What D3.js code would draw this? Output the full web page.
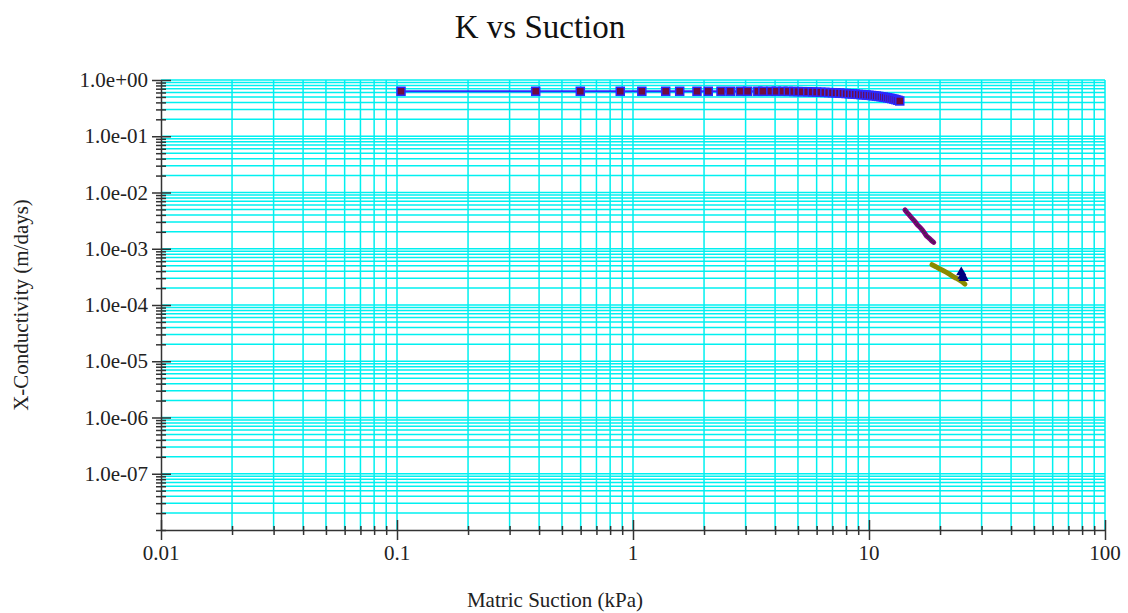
<!DOCTYPE html>
<html>
<head>
<meta charset="utf-8">
<script src="https://cdn.jsdelivr.net/npm/d3@7"></script>
<style>
  body { margin: 0; background: #fff; }
</style>
</head>
<body>
<script>
const width = 1128;
const height = 613;
const plot_left = 161, plot_right = 1105, plot_top = 80, plot_bottom = 530;
const serif = "'Times New Roman', 'Liberation Serif', 'DejaVu Serif', Times, serif";

// series 1 : main curve (blue line, square markers)
const s1_suction = [0.104,0.387,0.598,0.883,1.09,1.376,1.577,1.867,2.084,2.36,2.585,2.85,3.06,3.38,3.55,3.84,4.05,4.32,
  4.55,4.8,5.0,5.22,5.5,5.75,6.0,6.25,6.5,6.75,7.0,7.25,7.5,7.75,8.0,8.25,8.5,8.75,9.0,9.25,9.5,9.75,10.0,
  10.25,10.5,10.75,11.0,11.25,11.5,11.75,12.0,12.25,12.5,12.75,13.0,13.25,13.5];
const s1_k = [0.63,0.63,0.63,0.63,0.63,0.63,0.63,0.63,0.63,0.63,0.63,0.63,0.63,0.63,0.63,0.63,0.63,0.63,
  0.628,0.625,0.622,0.62,0.617,0.613,0.61,0.606,0.602,0.598,0.594,0.59,0.585,0.58,0.575,0.57,0.565,0.56,0.555,0.55,0.545,0.54,0.535,
  0.53,0.524,0.518,0.511,0.504,0.497,0.49,0.482,0.474,0.466,0.457,0.447,0.436,0.424];

// series 2 : purple
const s2_suction = [14.2,14.5,14.8,15.1,15.4,15.7,16.0,16.3,16.6,16.9,17.2,17.5,17.8,18.1,18.4,18.8];
const s2_k = [0.0049,0.0044,0.0040,0.0036,0.0033,0.0030,0.0027,0.0025,0.0023,0.0021,0.0019,0.0017,0.0016,0.0015,0.0014,0.0013];

// series 3 : olive
const s3_suction = [18.5,19.2,19.9,20.6,21.3,22.0,22.7,23.4,24.1,24.8,25.5];
const s3_k = [0.00052,0.00048,0.00044,0.00041,0.00038,0.00035,0.00032,0.00030,0.00028,0.00026,0.000235];

// series 4 : navy triangles
const s4_suction = [24.6,24.9,25.2];
const s4_k = [0.00038,0.00033,0.00030];

const xTicks = [0.01,0.1,1,10,100];
const xTickLabels = ["0.01","0.1","1","10","100"];
const yTicks = [1,1e-1,1e-2,1e-3,1e-4,1e-5,1e-6,1e-7];
const yTickLabels = ["1.0e+00","1.0e-01","1.0e-02","1.0e-03","1.0e-04","1.0e-05","1.0e-06","1.0e-07"];

var svg = d3.select("body").append("svg")
  .attr("width", width)
  .attr("height", height)
  .attr("font-family", serif);

var x = d3.scaleLog().domain([0.01, 100]).range([plot_left, plot_right]);
var y = d3.scaleLog().domain([1e-8, 1]).range([plot_bottom, plot_top]);

// grid
var grid = svg.append("g").attr("class","grid");
grid.selectAll("line.gx")
  .data(x.ticks().filter(d => d > 0.01))
  .enter().append("line")
  .attr("x1", d => x(d)).attr("x2", d => x(d))
  .attr("y1", plot_top).attr("y2", plot_bottom)
  .attr("stroke", "#00f0f0").attr("stroke-width", 1.5);
grid.selectAll("line.gy")
  .data(y.ticks().filter(d => d > 1e-8))
  .enter().append("line")
  .attr("x1", plot_left).attr("x2", plot_right)
  .attr("y1", d => y(d)).attr("y2", d => y(d))
  .attr("stroke", "#00f0f0").attr("stroke-width", 1.5);

// axes
var xAxis = svg.append("g")
  .attr("transform", "translate(0," + plot_bottom + ")")
  .call(d3.axisBottom(x).tickValues(x.ticks()).tickSize(0).tickFormat(""));
xAxis.select(".domain").attr("stroke", "#333").attr("stroke-width", 1.5);
xAxis.selectAll(".tick line")
  .attr("y1", -4)
  .attr("y2", 5)
  .attr("stroke", "#333").attr("stroke-width", 1.5);
xAxis.selectAll(".tick").filter(d => xTicks.includes(d)).select("line")
  .attr("y1", -10).attr("y2", 10);

var yAxis = svg.append("g")
  .attr("transform", "translate(" + plot_left + ",0)")
  .call(d3.axisLeft(y).tickValues(y.ticks()).tickSize(0).tickFormat(""));
yAxis.select(".domain").attr("stroke", "#333").attr("stroke-width", 1.5);
yAxis.selectAll(".tick line")
  .attr("x1", -5).attr("x2", 5)
  .attr("stroke", "#333").attr("stroke-width", 1.5);
yAxis.selectAll(".tick").filter(d => yTicks.includes(d)).select("line")
  .attr("x1", -9).attr("x2", 10);

// tick labels
svg.selectAll("text.xl")
  .data(xTicks)
  .enter().append("text")
  .attr("x", d => x(d))
  .attr("y", 560)
  .attr("text-anchor", "middle")
  .attr("font-size", 21)
  .attr("font-family", serif)
  .attr("fill", "#222")
  .text((d,i) => xTickLabels[i]);
svg.selectAll("text.yl")
  .data(yTicks)
  .enter().append("text")
  .attr("x", 148)
  .attr("y", d => y(d) + 7)
  .attr("text-anchor", "end")
  .attr("font-size", 21)
  .attr("font-family", serif)
  .attr("fill", "#222")
  .text((d,i) => yTickLabels[i]);

// titles
svg.append("text")
  .attr("x", 540).attr("y", 38)
  .attr("text-anchor", "middle")
  .attr("font-size", 33)
  .attr("font-family", serif)
  .attr("fill", "#111")
  .text("K vs Suction");
svg.append("text")
  .attr("x", 555).attr("y", 607)
  .attr("text-anchor", "middle")
  .attr("font-size", 21)
  .attr("font-family", serif)
  .attr("fill", "#222")
  .text("Matric Suction (kPa)");
svg.append("text")
  .attr("transform", "translate(28,305) rotate(-90)")
  .attr("text-anchor", "middle")
  .attr("font-size", 21)
  .attr("font-family", serif)
  .attr("fill", "#222")
  .text("X-Conductivity (m/days)");

var line = d3.line().x(d => x(d[0])).y(d => y(d[1]));

// series 1
var d1 = s1_suction.map((v,i) => [v, s1_k[i]]);
svg.append("path").datum(d1)
  .attr("d", line).attr("fill", "none")
  .attr("stroke", "#2a2aff").attr("stroke-width", 2);
svg.selectAll("rect.s1")
  .data(d1).enter().append("rect")
  .attr("x", d => x(d[0]) - 4)
  .attr("y", d => y(d[1]) - 4)
  .attr("width", 8).attr("height", 8)
  .attr("fill", "#700a40")
  .attr("stroke", "#2a2aff").attr("stroke-width", 1.5);

// series 2
var d2 = s2_suction.map((v,i) => [v, s2_k[i]]);
svg.append("path").datum(d2)
  .attr("d", line).attr("fill", "none")
  .attr("stroke", "#800080").attr("stroke-width", 5)
  .attr("stroke-linecap", "round");
svg.selectAll("circle.s2")
  .data(d2).enter().append("circle")
  .attr("cx", d => x(d[0])).attr("cy", d => y(d[1]))
  .attr("r", 1.2).attr("fill", "#4a204a");

// series 3
var d3s = s3_suction.map((v,i) => [v, s3_k[i]]);
svg.append("path").datum(d3s)
  .attr("d", line).attr("fill", "none")
  .attr("stroke", "#8a8a00").attr("stroke-width", 5)
  .attr("stroke-linecap", "round");

// series 4
var d4 = s4_suction.map((v,i) => [v, s4_k[i]]);
svg.append("path").datum(d4)
  .attr("d", line).attr("fill", "none")
  .attr("stroke", "#000080").attr("stroke-width", 2);
svg.selectAll("path.s4")
  .data(d4).enter().append("path")
  .attr("transform", d => "translate(" + x(d[0]) + "," + y(d[1]) + ")")
  .attr("d", d3.symbol().type(d3.symbolTriangle).size(45))
  .attr("fill", "#000080");
</script>
</body>
</html>
